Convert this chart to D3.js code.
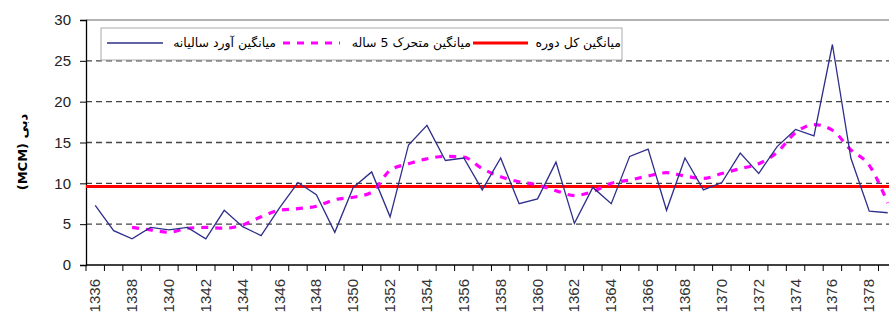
<!DOCTYPE html>
<html>
<head>
<meta charset="utf-8">
<script src="https://cdn.jsdelivr.net/npm/d3@7"></script>
<style>
  body { margin: 0; background: #fff; }
  svg { display: block; }
</style>
</head>
<body>
<div id="chart"></div>
<script>
// years (water years) shown on the x axis
const years = [1336, 1337, 1338, 1339, 1340, 1341, 1342, 1343, 1344, 1345, 1346,
  1347, 1348, 1349, 1350, 1351, 1352, 1353, 1354, 1355, 1356, 1357, 1358, 1359,
  1360, 1361, 1362, 1363, 1364, 1365, 1366, 1367, 1368, 1369, 1370, 1371, 1372,
  1373, 1374, 1375, 1376, 1377, 1378, 1379];

// annual inflow (MCM)
const annualFlow = [7.3, 4.2, 3.2, 4.6, 4.3, 4.6, 3.2, 6.7, 4.7, 3.6, 7.0,
  10.1, 8.6, 4.0, 9.5, 11.4, 5.9, 14.7, 17.1, 12.8, 13.1, 9.2, 13.1, 7.5,
  8.1, 12.6, 5.1, 9.5, 7.5, 13.3, 14.2, 6.7, 13.1, 9.2, 10.1, 13.7, 11.2,
  14.5, 16.6, 15.8, 27.0, 13.1, 6.6, 6.4];

// 5-year moving average, starts at 1338
const maYears = years.slice(2);
const movingAvg = [4.6, 4.3, 4.0, 4.5, 4.6, 4.5, 4.9, 5.9, 6.7, 6.9, 7.2,
  8.0, 8.3, 8.9, 11.6, 12.4, 13.0, 13.3, 13.2, 11.8, 10.8, 10.2, 9.8, 9.1,
  8.5, 9.0, 10.0, 10.4, 10.9, 11.3, 10.9, 10.6, 11.2, 11.8, 12.4, 13.8, 16.2,
  17.2, 16.5, 14.1, 12.2, 7.6];

// whole-period mean
const periodMean = 9.6;

const yTicks = [0, 5, 10, 15, 20, 25, 30];
const xLabelYears = years.filter((d) => d % 2 === 0);

const legendItems = ["میانگین آورد سالیانه", "میانگین متحرک 5 ساله", "میانگین کل دوره"];

const width = 889, height = 320;
const plot = { left: 86, top: 20, bottom: 265, band: 18.43 };

const svg = d3.select("#chart").append("svg")
  .attr("width", width)
  .attr("height", height);

const x = d3.scaleBand()
  .domain(years)
  .range([plot.left, plot.left + years.length * plot.band])
  .padding(0);

const y = d3.scaleLinear().domain([0, 30]).range([plot.bottom, plot.top]);

const cx = (d) => x(d) + x.bandwidth() / 2;

// gridlines (dashed)
svg.append("g")
  .selectAll("line")
  .data(yTicks.filter((d) => d > 0 && d < 30))
  .join("line")
  .attr("x1", plot.left)
  .attr("x2", width)
  .attr("y1", (d) => y(d))
  .attr("y2", (d) => y(d))
  .attr("stroke", "#444")
  .attr("stroke-width", 1.3)
  .attr("stroke-dasharray", "6,4");

// top border of plot area
svg.append("line")
  .attr("x1", plot.left).attr("x2", width)
  .attr("y1", y(30)).attr("y2", y(30))
  .attr("stroke", "#999").attr("stroke-width", 1.3);

// y axis
const yAxis = svg.append("g")
  .attr("transform", `translate(${plot.left},0)`)
  .call(d3.axisLeft(y).tickValues(yTicks).tickSize(6).tickPadding(9));
yAxis.select(".domain").attr("stroke", "#000").attr("stroke-width", 1.3);
yAxis.selectAll(".tick line").attr("stroke", "#000");
yAxis.selectAll("text")
  .attr("font-family", "Liberation Sans, Arial, sans-serif")
  .attr("font-size", 15)
  .attr("fill", "#222");

// x axis: ticks at category boundaries
svg.append("line")
  .attr("x1", plot.left).attr("x2", width)
  .attr("y1", plot.bottom).attr("y2", plot.bottom)
  .attr("stroke", "#000").attr("stroke-width", 1.3);

svg.append("g")
  .selectAll("line")
  .data(years)
  .join("line")
  .attr("x1", (d) => x(d))
  .attr("x2", (d) => x(d))
  .attr("y1", plot.bottom)
  .attr("y2", plot.bottom + 6)
  .attr("stroke", "#000");

svg.append("g")
  .selectAll("text")
  .data(xLabelYears)
  .join("text")
  .attr("transform", (d) => `translate(${cx(d) + 5},${plot.bottom + 14}) rotate(-90)`)
  .attr("text-anchor", "end")
  .attr("font-family", "Liberation Sans, Arial, sans-serif")
  .attr("font-size", 15)
  .attr("fill", "#333")
  .text((d) => d);

// y axis title
svg.append("text")
  .attr("transform", "translate(27,152) rotate(-90)")
  .attr("text-anchor", "middle")
  .attr("font-family", "DejaVu Sans, sans-serif")
  .attr("font-size", 13)
  .attr("font-weight", "bold")
  .attr("fill", "#000")
  .text("(MCM) دبی");

// period mean
svg.append("line")
  .attr("x1", plot.left).attr("x2", width)
  .attr("y1", y(periodMean)).attr("y2", y(periodMean))
  .attr("stroke", "#ff0000").attr("stroke-width", 3);

// moving average
svg.append("path")
  .datum(maYears.map((d, i) => [d, movingAvg[i]]))
  .attr("fill", "none")
  .attr("stroke", "#ff00ff")
  .attr("stroke-width", 3.2)
  .attr("stroke-dasharray", "7,7")
  .attr("d", d3.line().x((d) => cx(d[0])).y((d) => y(d[1])).curve(d3.curveMonotoneX));

// annual flow
svg.append("path")
  .datum(years.map((d, i) => [d, annualFlow[i]]))
  .attr("fill", "none")
  .attr("stroke", "#2e2e8a")
  .attr("stroke-width", 1.3)
  .attr("d", d3.line().x((d) => cx(d[0])).y((d) => y(d[1])));

// legend
const legend = svg.append("g");
legend.append("rect")
  .attr("x", 101).attr("y", 28)
  .attr("width", 521).attr("height", 32)
  .attr("fill", "#fff")
  .attr("stroke", "#aaa");

const legendStyle = [
  { x1: 107, x2: 163, textRight: 276, color: "#2e2e8a", w: 1.4, dash: null },
  { x1: 283, x2: 340, textRight: 471, color: "#ff00ff", w: 3.2, dash: "7,7" },
  { x1: 473, x2: 528, textRight: 621, color: "#ff0000", w: 3, dash: null }
];

legendItems.forEach(function (label, i) {
  const s = legendStyle[i];
  legend.append("line")
    .attr("x1", s.x1).attr("x2", s.x2)
    .attr("y1", 43).attr("y2", 43)
    .attr("stroke", s.color)
    .attr("stroke-width", s.w)
    .attr("stroke-dasharray", s.dash);
  legend.append("text")
    .attr("x", s.textRight)
    .attr("y", 47)
    .attr("text-anchor", "end")
    .attr("font-family", "DejaVu Sans, sans-serif")
    .attr("font-size", 12.5)
    .attr("fill", "#000")
    .text(label);
});
</script>
</body>
</html>
